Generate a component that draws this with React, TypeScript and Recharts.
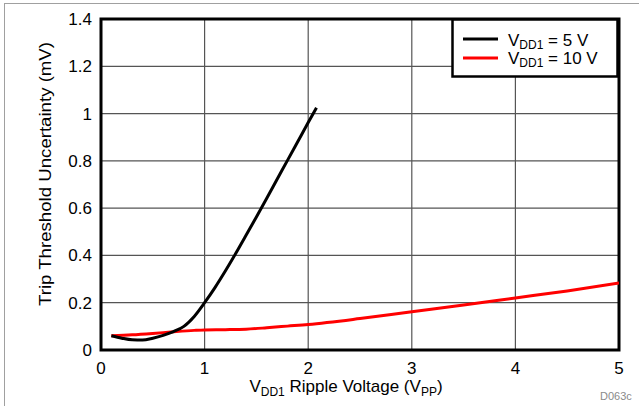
import React from 'react';
import { LineChart, Line, XAxis, YAxis, CartesianGrid, ReferenceArea, Label } from 'recharts';

const xTicks = [0, 1, 2, 3, 4, 5];
const yTicks = [0, 0.2, 0.4, 0.6, 0.8, 1, 1.2, 1.4];

// VDD1 = 5 V curve
const ripple5V = [0.1, 0.2, 0.3, 0.4, 0.5, 0.6, 0.7, 0.8, 0.9, 1.0, 1.1, 1.2, 1.3, 1.4, 1.5, 1.6, 1.7, 1.8, 1.9, 2.0, 2.08];
const uncertainty5V = [0.06, 0.05, 0.043, 0.042, 0.05, 0.062, 0.078, 0.1, 0.142, 0.2, 0.264, 0.334, 0.408, 0.485, 0.563, 0.642, 0.722, 0.802, 0.882, 0.962, 1.025];

// VDD1 = 10 V curve
const ripple10V = [0.1, 0.3, 0.5, 0.7, 0.9, 1.0, 1.2, 1.4, 1.6, 1.8, 2.0, 2.5, 3.0, 3.5, 4.0, 4.5, 5.0];
const uncertainty10V = [0.06, 0.064, 0.07, 0.077, 0.083, 0.085, 0.086, 0.088, 0.094, 0.101, 0.108, 0.133, 0.162, 0.19, 0.22, 0.25, 0.283];

const series5V = ripple5V.map((x, i) => ({ x, y: uncertainty5V[i] }));
const series10V = ripple10V.map((x, i) => ({ x, y: uncertainty10V[i] }));

const FONT = '"Liberation Sans", Arial, sans-serif';

const XTitle = (props: any) => {
  const vb = props.viewBox;
  const cx = vb.x + vb.width / 2 - 14;
  return (
    <text x={cx} y={392} textAnchor="middle" fontSize={17} fill="#000" fontFamily={FONT}>
      V<tspan fontSize={12} dy={4}>DD1</tspan>
      <tspan dy={-4}> Ripple Voltage (V</tspan>
      <tspan fontSize={12} dy={4}>PP</tspan>
      <tspan dy={-4}>)</tspan>
    </text>
  );
};

const YTitle = () => (
  <text
    x={45}
    y={174}
    dy="0.35em"
    transform="rotate(-90, 45, 174)"
    textAnchor="middle"
    fontSize={17}
    textLength={264}
    lengthAdjust="spacingAndGlyphs"
    fill="#000"
    fontFamily={FONT}
  >
    Trip Threshold Uncertainty (mV)
  </text>
);

const LegendBox = () => (
  <svg width={168} height={60} style={{ position: 'absolute', left: 451, top: 18 }}>
    <rect x={1.5} y={1.5} width={165} height={57} fill="#fff" stroke="#000" strokeWidth={2.5} />
    <line x1={12} x2={47} y1={21} y2={21} stroke="#000" strokeWidth={3} />
    <line x1={12} x2={47} y1={40} y2={40} stroke="#ff0000" strokeWidth={3} />
    <text x={57} y={28} fontSize={17} fontFamily={FONT} fill="#000">
      V<tspan fontSize={12} dy={3}>DD1</tspan>
      <tspan dy={-3}> = 5 V</tspan>
    </text>
    <text x={57} y={46} fontSize={17} fontFamily={FONT} fill="#000">
      V<tspan fontSize={12} dy={3}>DD1</tspan>
      <tspan dy={-3}> = 10 V</tspan>
    </text>
  </svg>
);

export default function App() {
  return (
    <div style={{ position: 'absolute', left: 0, top: 0, width: 639, height: 406, background: '#fff', fontFamily: FONT, overflow: 'hidden' }}>
      <div style={{ position: 'absolute', left: 4, top: 3, width: 700, height: 500, borderLeft: '1px solid #a0a0a0', borderTop: '1px solid #a0a0a0' }} />
      <LineChart width={639} height={406} margin={{ top: 19, right: 20, bottom: 0, left: 0 }}>
        <CartesianGrid stroke="#555" strokeWidth={1.2} horizontalValues={yTicks} verticalValues={xTicks} />
        <XAxis
          type="number"
          dataKey="x"
          domain={[0, 5]}
          ticks={xTicks}
          height={56}
          tickLine={false}
          tickSize={6}
          tickMargin={6}
          axisLine={false}
          tick={{ fill: '#000', fontSize: 17 }}
          allowDataOverflow
        >
          <Label content={XTitle} />
        </XAxis>
        <YAxis
          type="number"
          dataKey="y"
          domain={[0, 1.4]}
          ticks={yTicks}
          width={101}
          tickLine={false}
          tickSize={6}
          tickMargin={3}
          axisLine={false}
          tick={{ fill: '#000', fontSize: 17 }}
          allowDataOverflow
        >
          <Label content={YTitle} />
        </YAxis>
        <Line data={series10V} dataKey="y" type="monotone" stroke="#ff0000" strokeWidth={3} dot={false} isAnimationActive={false} />
        <Line data={series5V} dataKey="y" type="monotone" stroke="#000" strokeWidth={3} dot={false} isAnimationActive={false} />
        <ReferenceArea x1={0} x2={5} y1={0} y2={1.4} fill="none" stroke="#000" strokeWidth={3} ifOverflow="visible" />
      </LineChart>
      <LegendBox />
      <div style={{ position: 'absolute', left: 600, top: 390, fontSize: 11, color: '#8a8a8a' }}>D063c</div>
    </div>
  );
}
